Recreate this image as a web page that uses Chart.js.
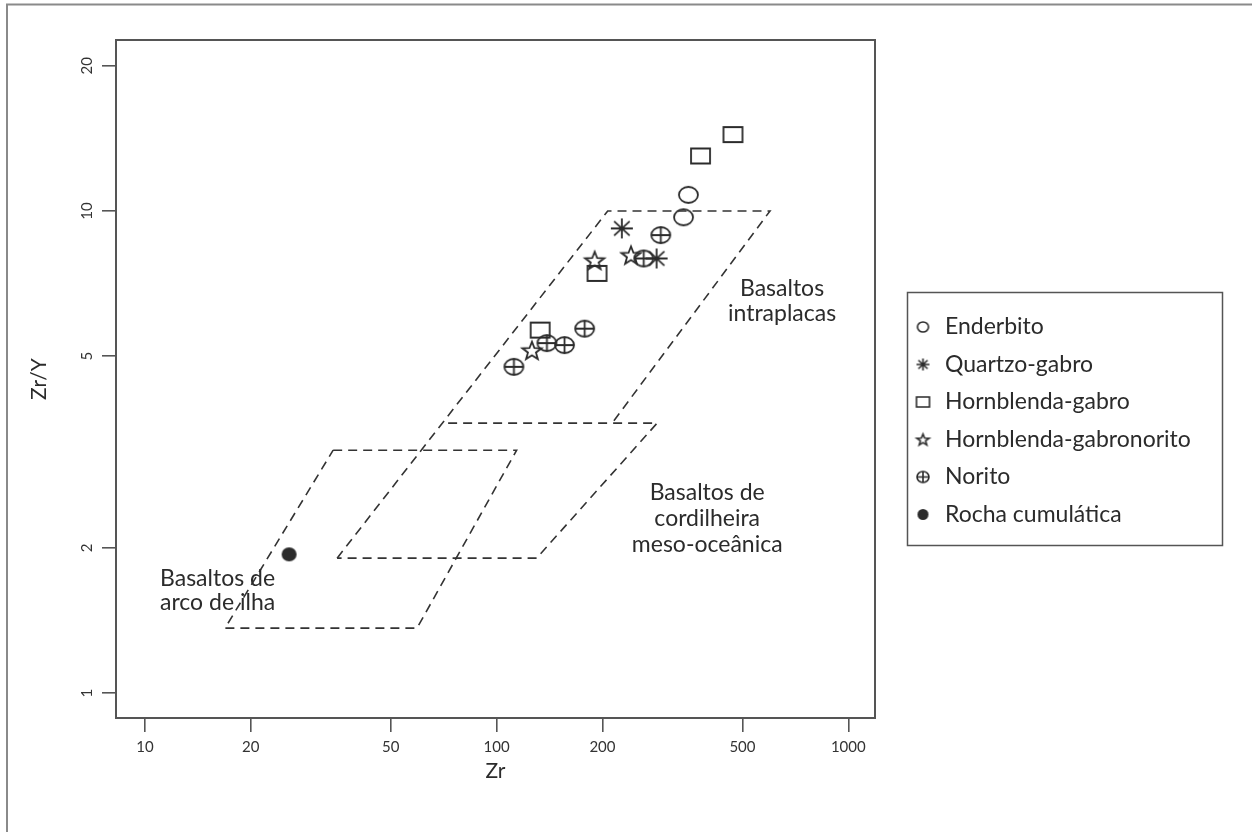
<!DOCTYPE html>
<html>
<head>
<meta charset="utf-8">
<script src="https://cdn.jsdelivr.net/npm/chart.js@4.4.1/dist/chart.umd.min.js"></script>
<style>
  html, body { margin: 0; padding: 0; background: #fff; }
  #wrap { position: relative; width: 1252px; height: 832px; }
</style>
</head>
<body>
<div id="wrap"><canvas id="chart" width="1252" height="832"></canvas></div>
<script>
// axis ticks
const xTicks = [10, 20, 50, 100, 200, 500, 1000];
const yTicks = [1, 2, 5, 10, 20];

// samples: Zr (ppm) and Zr/Y
const enderbitoZr = [351, 340];
const enderbitoZrY = [10.8, 9.7];
const quartzoGabroZr = [227, 285];
const quartzoGabroZrY = [9.2, 7.97];
const hbGabroZr = [470, 380, 193, 133];
const hbGabroZrY = [14.4, 13.0, 7.42, 5.66];
const hbGabronoritoZr = [190, 241, 126];
const hbGabronoritoZrY = [7.9, 8.1, 5.14];
const noritoZr = [293, 262, 178, 156, 139, 112];
const noritoZrY = [8.91, 7.97, 5.7, 5.27, 5.32, 4.75];
const cumulaticaZr = [25.7];
const cumulaticaZrY = [1.94];

// discrimination fields (Pearce & Norry), vertex lists
const wpbZr = [35.2, 207, 599, 213];
const wpbZrY = [1.905, 10, 10, 3.63];
const morbZr = [72.8, 286, 130, 35.2];
const morbZrY = [3.63, 3.63, 1.905, 1.905];
const iabZr = [34.3, 114, 59.4, 16.9, 34.3];
const iabZrY = [3.19, 3.19, 1.364, 1.364, 3.19];

const ink = '#2b2b2b';
const fontFamily = 'Lato, "Open Sans", sans-serif';

function pairs(xs, ys) {
  return xs.map((x, i) => ({ x: x, y: ys[i] }));
}

// draws a symbol into a small canvas, used as pointStyle
function marker(kind, w, h, lw) {
  const pad = Math.ceil(lw) + 1;
  const c = document.createElement('canvas');
  c.width = Math.ceil(w) + pad * 2;
  c.height = Math.ceil(h) + pad * 2;
  const g = c.getContext('2d');
  g.strokeStyle = ink;
  g.fillStyle = ink;
  g.lineWidth = lw;
  const cx = c.width / 2, cy = c.height / 2, rx = w / 2, ry = h / 2;
  g.beginPath();
  if (kind === 'circle' || kind === 'plus' || kind === 'dot') {
    g.ellipse(cx, cy, rx, ry, 0, 0, Math.PI * 2);
    if (kind === 'plus') {
      g.moveTo(cx - rx, cy); g.lineTo(cx + rx, cy);
      g.moveTo(cx, cy - ry); g.lineTo(cx, cy + ry);
    }
  } else if (kind === 'square') {
    g.rect(cx - rx, cy - ry, w, h);
  } else if (kind === 'asterisk') {
    for (let k = 0; k < 4; k++) {
      const a = k * Math.PI / 4;
      g.moveTo(cx - rx * Math.cos(a), cy - ry * Math.sin(a));
      g.lineTo(cx + rx * Math.cos(a), cy + ry * Math.sin(a));
    }
  } else if (kind === 'star') {
    for (let k = 0; k < 10; k++) {
      const a = -Math.PI / 2 + k * Math.PI / 5;
      const f = k % 2 === 0 ? 1 : 0.42;
      const px = cx + rx * f * Math.cos(a);
      const py = cy + ry * f * Math.sin(a) + ry * 0.1;
      if (k === 0) g.moveTo(px, py); else g.lineTo(px, py);
    }
    g.closePath();
  }
  if (kind === 'dot') g.fill(); else g.stroke();
  return c;
}

const series = [
  { label: 'Enderbito', xs: enderbitoZr, ys: enderbitoZrY, kind: 'circle', big: [19, 16], small: [11, 10] },
  { label: 'Quartzo-gabro', xs: quartzoGabroZr, ys: quartzoGabroZrY, kind: 'asterisk', big: [22, 20], small: [13, 12] },
  { label: 'Hornblenda-gabro', xs: hbGabroZr, ys: hbGabroZrY, kind: 'square', big: [19, 15], small: [13, 10] },
  { label: 'Hornblenda-gabronorito', xs: hbGabronoritoZr, ys: hbGabronoritoZrY, kind: 'star', big: [20, 19], small: [13, 12] },
  { label: 'Norito', xs: noritoZr, ys: noritoZrY, kind: 'plus', big: [19, 16], small: [12, 11] },
  { label: 'Rocha cumulática', xs: cumulaticaZr, ys: cumulaticaZrY, kind: 'dot', big: [15, 14], small: [11, 11] }
];

const fieldLine = {
  type: 'line', showLine: true, fill: false, pointRadius: 0, borderColor: '#333',
  borderWidth: 1.6, borderDash: [9, 6], tension: 0, spanGaps: false
};

const datasets = [
  Object.assign({ label: 'wpb', data: pairs(wpbZr, wpbZrY) }, fieldLine),
  Object.assign({ label: 'morb', data: pairs(morbZr, morbZrY) }, fieldLine),
  Object.assign({ label: 'iab', data: pairs(iabZr, iabZrY) }, fieldLine)
];
series.forEach(s => {
  s.icon = marker(s.kind, s.small[0], s.small[1], 1.6);
  datasets.push({
    label: s.label,
    data: pairs(s.xs, s.ys),
    showLine: false,
    pointStyle: marker(s.kind, s.big[0], s.big[1], 1.8),
    pointRadius: 10
  });
});

// field names, anchored in data coordinates
const fieldNames = [
  { lines: ['Basaltos', 'intraplacas'], x: 648, y: 6.51, align: 'center', gap: 25 },
  { lines: ['Basaltos de', 'cordilheira', 'meso-oceânica'], x: 397, y: 2.30, align: 'center', gap: 26 },
  { lines: ['Basaltos de', 'arco de ilha'], x: 11.04, y: 1.635, align: 'left', gap: 24 }
];

const framePlugin = {
  id: 'frame',
  beforeDraw(chart) {
    const g = chart.ctx;
    g.save();
    g.strokeStyle = '#8a8a8a';
    g.lineWidth = 2;
    g.beginPath();
    g.moveTo(7, 832); g.lineTo(7, 4.5); g.lineTo(1252, 4.5);
    g.stroke();
    g.restore();
  },
  afterDraw(chart) {
    const a = chart.chartArea, g = chart.ctx;
    g.save();
    g.strokeStyle = '#555';
    g.lineWidth = 2;
    g.strokeRect(a.left, a.top, a.right - a.left, a.bottom - a.top);
    g.restore();
  }
};

const labelPlugin = {
  id: 'fieldNames',
  afterDatasetsDraw(chart) {
    const g = chart.ctx, xs = chart.scales.x, ys = chart.scales.y;
    g.save();
    g.fillStyle = ink;
    g.font = '23px ' + fontFamily;
    g.textBaseline = 'middle';
    fieldNames.forEach(f => {
      const px = xs.getPixelForValue(f.x), py = ys.getPixelForValue(f.y);
      g.textAlign = f.align;
      const y0 = py - (f.lines.length - 1) * f.gap / 2;
      f.lines.forEach((t, i) => g.fillText(t, px, y0 + i * f.gap));
    });
    g.restore();
  }
};

const legendPlugin = {
  id: 'boxLegend',
  afterDraw(chart) {
    const g = chart.ctx;
    const box = { x: 907, y: 292, w: 315, h: 253 };
    g.save();
    g.strokeStyle = '#555';
    g.lineWidth = 1.5;
    g.strokeRect(box.x + 0.5, box.y + 0.5, box.w, box.h);
    g.font = '23px ' + fontFamily;
    g.fillStyle = ink;
    g.textAlign = 'left';
    g.textBaseline = 'middle';
    series.forEach((s, i) => {
      const cy = 327 + i * 37.5;
      g.drawImage(s.icon, 923 - s.icon.width / 2, cy - s.icon.height / 2);
      g.fillText(s.label, 945, cy);
    });
    g.restore();
  }
};

const ctx = document.getElementById('chart').getContext('2d');
new Chart(ctx, {
  type: 'scatter',
  data: { datasets: datasets },
  options: {
    responsive: false,
    animation: false,
    layout: { padding: { left: 0, top: 40, right: 377, bottom: 0 } },
    plugins: { legend: { display: false }, tooltip: { enabled: false } },
    scales: {
      x: {
        type: 'logarithmic',
        min: 8.276,
        max: 1191,
        afterBuildTicks: s => { s.ticks = xTicks.map(v => ({ value: v })); },
        afterFit: s => { s.height = 114; },
        ticks: {
          callback: v => String(v), autoSkip: false, minRotation: 0, maxRotation: 0,
          font: { family: fontFamily, size: 15 }, color: '#333', padding: 6
        },
        grid: { drawOnChartArea: false, drawTicks: true, tickLength: 14, color: '#555', lineWidth: 1.6 },
        border: { display: false },
        title: { display: true, text: 'Zr', color: ink, font: { family: fontFamily, size: 21 }, padding: { top: 0, bottom: 48 } }
      },
      y: {
        type: 'logarithmic',
        min: 0.888,
        max: 22.62,
        afterBuildTicks: s => { s.ticks = yTicks.map(v => ({ value: v })); },
        afterFit: s => { s.width = 116; },
        ticks: {
          callback: v => String(v), autoSkip: false, minRotation: 90, maxRotation: 90, crossAlign: 'center',
          font: { family: fontFamily, size: 15 }, color: '#333', padding: 6
        },
        grid: { drawOnChartArea: false, drawTicks: true, tickLength: 14, color: '#555', lineWidth: 1.6 },
        border: { display: false },
        title: { display: true, text: 'Zr/Y', color: ink, font: { family: fontFamily, size: 21 }, padding: { top: 27, bottom: 0 } }
      }
    }
  },
  plugins: [framePlugin, labelPlugin, legendPlugin]
});
</script>
</body>
</html>
